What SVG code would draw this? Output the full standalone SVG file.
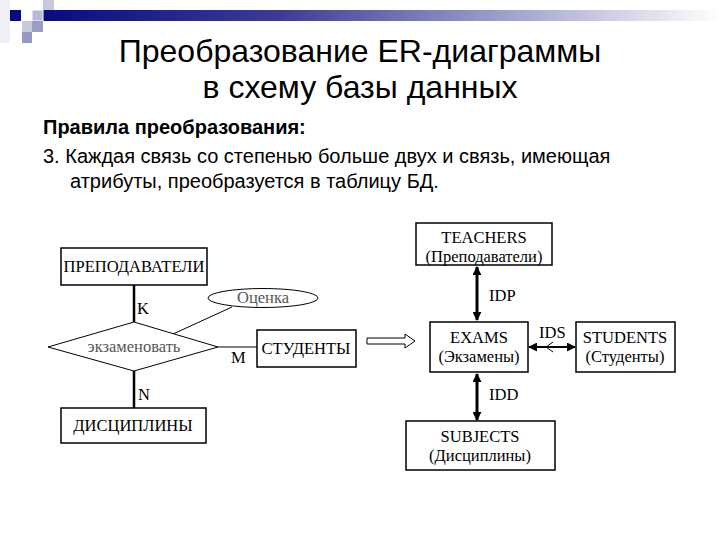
<svg xmlns="http://www.w3.org/2000/svg" width="720" height="540" viewBox="0 0 720 540">
<defs>
<linearGradient id="bar" x1="0" y1="0" x2="1" y2="0">
<stop offset="0" stop-color="#0a0a80"/>
<stop offset="0.35" stop-color="#3c3c96"/>
<stop offset="1" stop-color="#ffffff"/>
</linearGradient>
<marker id="ah" viewBox="0 0 10 10" refX="9" refY="5" markerWidth="9" markerHeight="9" orient="auto-start-reverse" markerUnits="userSpaceOnUse">
<path d="M0,0 L10,5 L0,10 Z" fill="#000"/>
</marker>
<style>
.t{font-family:"Liberation Sans",Arial,sans-serif;fill:#000}
.s{font-family:"Liberation Serif","Times New Roman",serif;fill:#000;font-size:16.5px}
.g{fill:#555}
.box{fill:#fff;stroke:#000;stroke-width:1.5}
.ln{stroke:#000;stroke-width:1;fill:none}
.thick{stroke:#000;stroke-width:2.5;fill:none}
</style>
</defs>
<rect width="720" height="540" fill="#fff"/>
<g id="decor">
<rect x="43" y="10" width="677" height="11" fill="url(#bar)"/>
<rect x="0" y="0" width="10" height="43" fill="#eef0f6"/>
<rect x="10" y="10" width="11" height="11" fill="#0a0a80"/>
<rect x="32" y="10" width="11" height="11" fill="#b8b8d8" stroke="#fff" stroke-width="1"/>
<rect x="43" y="0" width="11" height="10" fill="#c8c8e0"/>
<rect x="22" y="21" width="10" height="11" fill="#c8c8e0"/>
<rect x="32" y="21" width="11" height="11" fill="#9c9cc8"/>
<rect x="22" y="32" width="10" height="11" fill="#9898c8"/>
</g>
<g id="title">
<text class="t" x="360" y="62" font-size="32" text-anchor="middle">Преобразование ER-диаграммы</text>
<text class="t" x="360" y="98" font-size="32" text-anchor="middle">в схему базы данных</text>
</g>
<g id="body">
<text class="t" x="43" y="134" font-size="20" font-weight="bold">Правила преобразования:</text>
<text class="t" x="43" y="163" font-size="20">3. Каждая связь со степенью больше двух и связь, имеющая</text>
<text class="t" x="70" y="188" font-size="20">атрибуты, преобразуется в таблицу БД.</text>
</g>
<g id="connectors">
<line class="thick" x1="134" y1="285" x2="134" y2="322"/>
<line class="thick" x1="134" y1="371" x2="134" y2="408"/>
<line class="ln" x1="218" y1="347" x2="257" y2="347"/>
<line class="ln" x1="232" y1="307" x2="173" y2="334"/>
<path d="M367,338 H405 V334 L415,341 L405,348 V344 H367 Z" fill="#fff" stroke="#000" stroke-width="1"/>
<line x1="477" y1="267" x2="477" y2="320" stroke="#000" stroke-width="3" marker-start="url(#ah)" marker-end="url(#ah)"/>
<line x1="477" y1="374" x2="477" y2="420" stroke="#000" stroke-width="3" marker-start="url(#ah)" marker-end="url(#ah)"/>
<line x1="529" y1="347" x2="575" y2="347" stroke="#000" stroke-width="2" marker-start="url(#ah)" marker-end="url(#ah)"/>
<path d="M553,342 L546,347 L553,352" class="ln" stroke-width="2"/>
</g>
<g id="labels">
<text class="s" x="137" y="314">K</text>
<text class="s" x="138" y="400">N</text>
<text class="s" x="231" y="363">M</text>
<text class="s" x="489" y="301">IDP</text>
<text class="s" x="539" y="338">IDS</text>
<text class="s" x="489" y="400">IDD</text>
</g>
<g id="prepod">
<rect class="box" x="61" y="248" width="146" height="37"/>
<text class="s" x="134" y="272" text-anchor="middle">ПРЕПОДАВАТЕЛИ</text>
</g>
<g id="ekzam">
<polygon points="134,322 218,347 134,371 48,347" fill="#fff" stroke="#000" stroke-width="1"/>
<text class="s g" x="134" y="352" text-anchor="middle">экзаменовать</text>
</g>
<g id="ocenka">
<ellipse cx="263" cy="298" rx="55" ry="9.5" fill="#fff" stroke="#000" stroke-width="1"/>
<text class="s g" x="263" y="303" text-anchor="middle">Оценка</text>
</g>
<g id="studenty">
<rect class="box" x="257" y="330" width="99" height="37"/>
<text class="s" x="306" y="354" text-anchor="middle">СТУДЕНТЫ</text>
</g>
<g id="discipliny">
<rect class="box" x="61" y="408" width="145" height="35"/>
<text class="s" x="133" y="431" text-anchor="middle">ДИСЦИПЛИНЫ</text>
</g>
<g id="teachers">
<rect class="box" x="416" y="223" width="136" height="42"/>
<text class="s" x="484" y="243" text-anchor="middle">TEACHERS</text>
<text class="s" x="484" y="262" text-anchor="middle">(Преподаватели)</text>
</g>
<g id="exams">
<rect class="box" x="430" y="322" width="98" height="50"/>
<text class="s" x="479" y="343" text-anchor="middle">EXAMS</text>
<text class="s" x="479" y="362" text-anchor="middle">(Экзамены)</text>
</g>
<g id="students">
<rect class="box" x="576" y="322" width="99" height="50"/>
<text class="s" x="625" y="343" text-anchor="middle">STUDENTS</text>
<text class="s" x="625" y="362" text-anchor="middle">(Студенты)</text>
</g>
<g id="subjects">
<rect class="box" x="406" y="421" width="149" height="49"/>
<text class="s" x="480" y="442" text-anchor="middle">SUBJECTS</text>
<text class="s" x="480" y="461" text-anchor="middle">(Дисциплины)</text>
</g>
</svg>
